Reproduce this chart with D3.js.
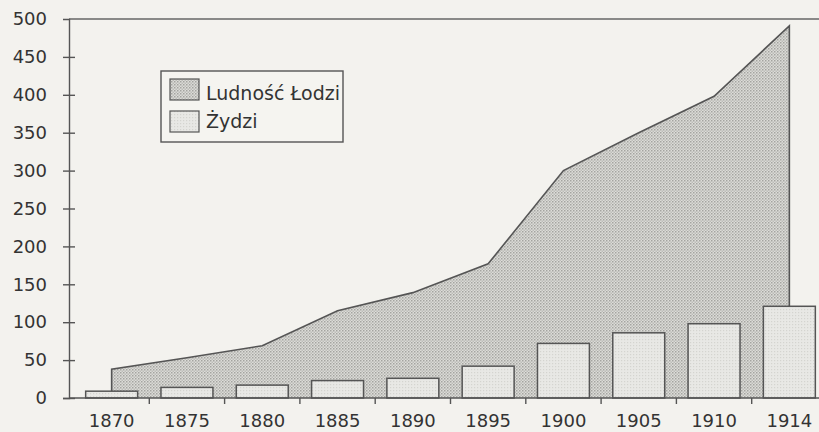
<!DOCTYPE html>
<html>
<head>
<meta charset="utf-8">
<script src="https://cdn.jsdelivr.net/npm/d3@7/dist/d3.min.js"></script>
<style>
  html, body { margin: 0; padding: 0; background: #f3f2ee; }
  svg { display: block; }
  text { font-family: "DejaVu Sans", sans-serif; fill: #333; }
</style>
</head>
<body>
<svg id="chart" width="819" height="432"></svg>
<script>
const years = ["1870", "1875", "1880", "1885", "1890", "1895", "1900", "1905", "1910", "1914"];
const population = [38, 53, 69, 115, 139, 177, 300, 350, 398, 491];
const jews = [9, 14, 17, 23, 26, 42, 72, 86, 98, 121];
const yTicks = [0, 50, 100, 150, 200, 250, 300, 350, 400, 450, 500];
const legendLabels = ["Ludność Łodzi", "Żydzi"];

const W = 819, H = 432;
const axisX = 69, topY = 19, baseY = 398;
const svg = d3.select("#chart");

svg.append("rect").attr("width", W).attr("height", H).attr("fill", "#f3f2ee");

const defs = svg.append("defs");
const pA = defs.append("pattern").attr("id", "dotsArea").attr("width", 3).attr("height", 3)
  .attr("patternUnits", "userSpaceOnUse");
pA.append("rect").attr("width", 3).attr("height", 3).attr("fill", "#dcdcd8");
pA.append("rect").attr("width", 1.5).attr("height", 1.5).attr("fill", "#a4a4a0");
pA.append("rect").attr("x", 1.5).attr("y", 1.5).attr("width", 1.5).attr("height", 1.5).attr("fill", "#bcbcb8");
const pB = defs.append("pattern").attr("id", "dotsBar").attr("width", 3).attr("height", 3)
  .attr("patternUnits", "userSpaceOnUse");
pB.append("rect").attr("width", 3).attr("height", 3).attr("fill", "#e8e8e5");
pB.append("rect").attr("width", 1.2).attr("height", 1.2).attr("fill", "#d4d4d0");

const x = d3.scaleBand().domain(years).range([74, 827]).paddingInner(0.31).paddingOuter(0.155);
const y = d3.scaleLinear().domain([0, 500]).range([baseY, topY]);
const cx = d => x(d) + x.bandwidth() / 2;

// area
const areaData = years.map((yr, i) => ({ yr, v: population[i] }));
const area = d3.area().x(d => cx(d.yr)).y0(y(0)).y1(d => y(d.v));
svg.append("path").datum(areaData).attr("d", area)
  .attr("fill", "url(#dotsArea)").attr("stroke", "none");
const line = d3.line().x(d => cx(d.yr)).y(d => y(d.v));
svg.append("path")
  .attr("d", `M${cx(years[0])},${y(0)}L` + line(areaData).slice(1) + `L${cx(years[years.length-1])},${y(0)}`)
  .attr("fill", "none").attr("stroke", "#555").attr("stroke-width", 1.6);

// bars
svg.selectAll("rect.bar").data(years).join("rect").attr("class", "bar")
  .attr("x", d => x(d)).attr("width", x.bandwidth())
  .attr("y", (d, i) => y(jews[i])).attr("height", (d, i) => y(0) - y(jews[i]))
  .attr("fill", "url(#dotsBar)").attr("stroke", "#555").attr("stroke-width", 1.5);

// top frame line
svg.append("line").attr("x1", axisX).attr("x2", W).attr("y1", topY).attr("y2", topY)
  .attr("stroke", "#666").attr("stroke-width", 1.4);

// y axis
const yAxis = svg.append("g").attr("transform", `translate(${axisX},0)`)
  .call(d3.axisLeft(y).tickValues(yTicks).tickSize(6).tickPadding(16));
yAxis.select(".domain").attr("stroke", "#555").attr("stroke-width", 1.4);
yAxis.selectAll(".tick line").attr("x1", -6).attr("x2", 6).attr("stroke", "#555").attr("stroke-width", 1.4);
yAxis.selectAll(".tick text").attr("font-size", 18).attr("fill", "#333")
  .attr("font-family", "'DejaVu Sans', sans-serif");
yAxis.selectAll(".tick").filter(d => d === 500).select("line").remove();

// x axis
const xAxis = svg.append("g").attr("transform", `translate(0,${baseY})`)
  .call(d3.axisBottom(x).tickSize(0).tickPadding(16));
xAxis.select(".domain").attr("d", `M${axisX},0H${W}`).attr("stroke", "#555").attr("stroke-width", 1.4);
xAxis.selectAll(".tick text").attr("font-size", 18).attr("fill", "#333")
  .attr("font-family", "'DejaVu Sans', sans-serif");
xAxis.selectAll("line.bnd").data(years.slice(1)).join("line").attr("class", "bnd")
  .attr("x1", d => x(d) - x.step() * x.paddingInner() / 2)
  .attr("x2", d => x(d) - x.step() * x.paddingInner() / 2)
  .attr("y1", 0).attr("y2", 6).attr("stroke", "#555").attr("stroke-width", 1.4);

// legend
const lg = svg.append("g");
lg.append("rect").attr("x", 161).attr("y", 71).attr("width", 182).attr("height", 71)
  .attr("fill", "#f5f4f0").attr("stroke", "#555").attr("stroke-width", 1.4);
const fills = ["url(#dotsArea)", "url(#dotsBar)"];
legendLabels.forEach((lab, i) => {
  lg.append("rect").attr("x", 170).attr("y", 79 + i * 32).attr("width", 29).attr("height", 21)
    .attr("fill", fills[i]).attr("stroke", "#555").attr("stroke-width", 1.2);
  lg.append("text").attr("x", 206).attr("y", 100 + i * 28).attr("font-size", 19).text(lab);
});
</script>
</body>
</html>
